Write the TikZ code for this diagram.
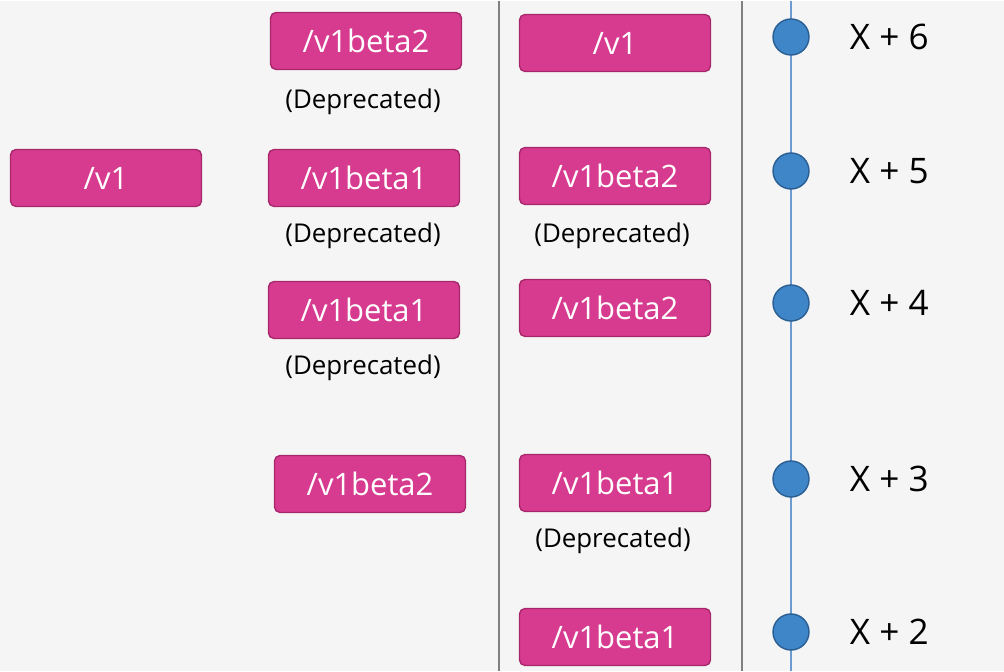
\documentclass[tikz,border=0pt]{standalone}
\usepackage{fontspec}
\setmainfont{Open Sans}
\usetikzlibrary{positioning}
\definecolor{bg}{HTML}{F5F5F5}
\definecolor{pinkfill}{HTML}{D63B8F}
\definecolor{pinkline}{HTML}{A8276C}
\definecolor{dotfill}{HTML}{3E86C8}
\definecolor{dotline}{HTML}{2A5E92}
\definecolor{tline}{HTML}{6D9BD0}

\begin{document}
\begin{tikzpicture}[x=0.025cm,y=-0.025cm,
    api/.style={rectangle,rounded corners=4pt,draw=pinkline,line width=1pt,fill=pinkfill,
      text=white,minimum width=191*0.7113pt,minimum height=57*0.7113pt,inner sep=0pt,
      font=\fontsize{22}{24}\selectfont},
    dep/.style={font=\fontsize{18.4}{20}\selectfont},
    dot/.style={circle,draw=dotline,line width=1pt,fill=dotfill,minimum size=36*0.7113pt,inner sep=0pt},
    ver/.style={anchor=west,font=\fontsize{25}{28}\selectfont}]

          \fill[bg] (0,0) rectangle (1004,670);

          % column separators
          \coordinate (s1t) at (499,0);
          \coordinate (s1b) at (499,670);
          \coordinate (s2t) at (742,0);
          \coordinate (s2b) at (742,670);
          \draw[gray,line width=1.4pt] (s1t) -- (s1b);
          \draw[gray,line width=1.4pt] (s2t) -- (s2b);

          % timeline
          \coordinate (tt) at (791,0);
          \coordinate (tb) at (791,670);
          \draw[tline,line width=0.8pt] (tt) -- (tb);

          \node[dot] (x6) at (791,36) {};
          \node[dot] (x5) at (791,170) {};
          \node[dot] (x4) at (791,302) {};
          \node[dot] (x3) at (791,478) {};
          \node[dot] (x2) at (791,631) {};

          \node[ver] (l6) at (845,36) {X + 6};
          \node[ver] (l5) at (845,170) {X + 5};
          \node[ver] (l4) at (845,302) {X + 4};
          \node[ver] (l3) at (845,478) {X + 3};
          \node[ver] (l2) at (845,631) {X + 2};

          % first column
          \node[api] (a5) at (106,177) {/v1};

          % second column
          \node[api] (b6) at (366,40) {/v1beta2};
          \node[dep] (b6d) at (363,101) {(Deprecated)};
          \node[api] (b5) at (364,177) {/v1beta1};
          \node[dep] (b5d) at (363,235) {(Deprecated)};
          \node[api] (b4) at (364,309) {/v1beta1};
          \node[dep] (b4d) at (363,367) {(Deprecated)};
          \node[api] (b3) at (370,483) {/v1beta2};

          % third column
          \node[api] (c6) at (615,42) {/v1};
          \node[api] (c5) at (615,175) {/v1beta2};
          \node[dep] (c5d) at (612,235) {(Deprecated)};
          \node[api] (c4) at (615,307) {/v1beta2};
          \node[api] (c3) at (615,482) {/v1beta1};
          \node[dep] (c3d) at (613,540) {(Deprecated)};
          \node[api] (c2) at (615,636) {/v1beta1};

        \end{tikzpicture}
\end{document}
